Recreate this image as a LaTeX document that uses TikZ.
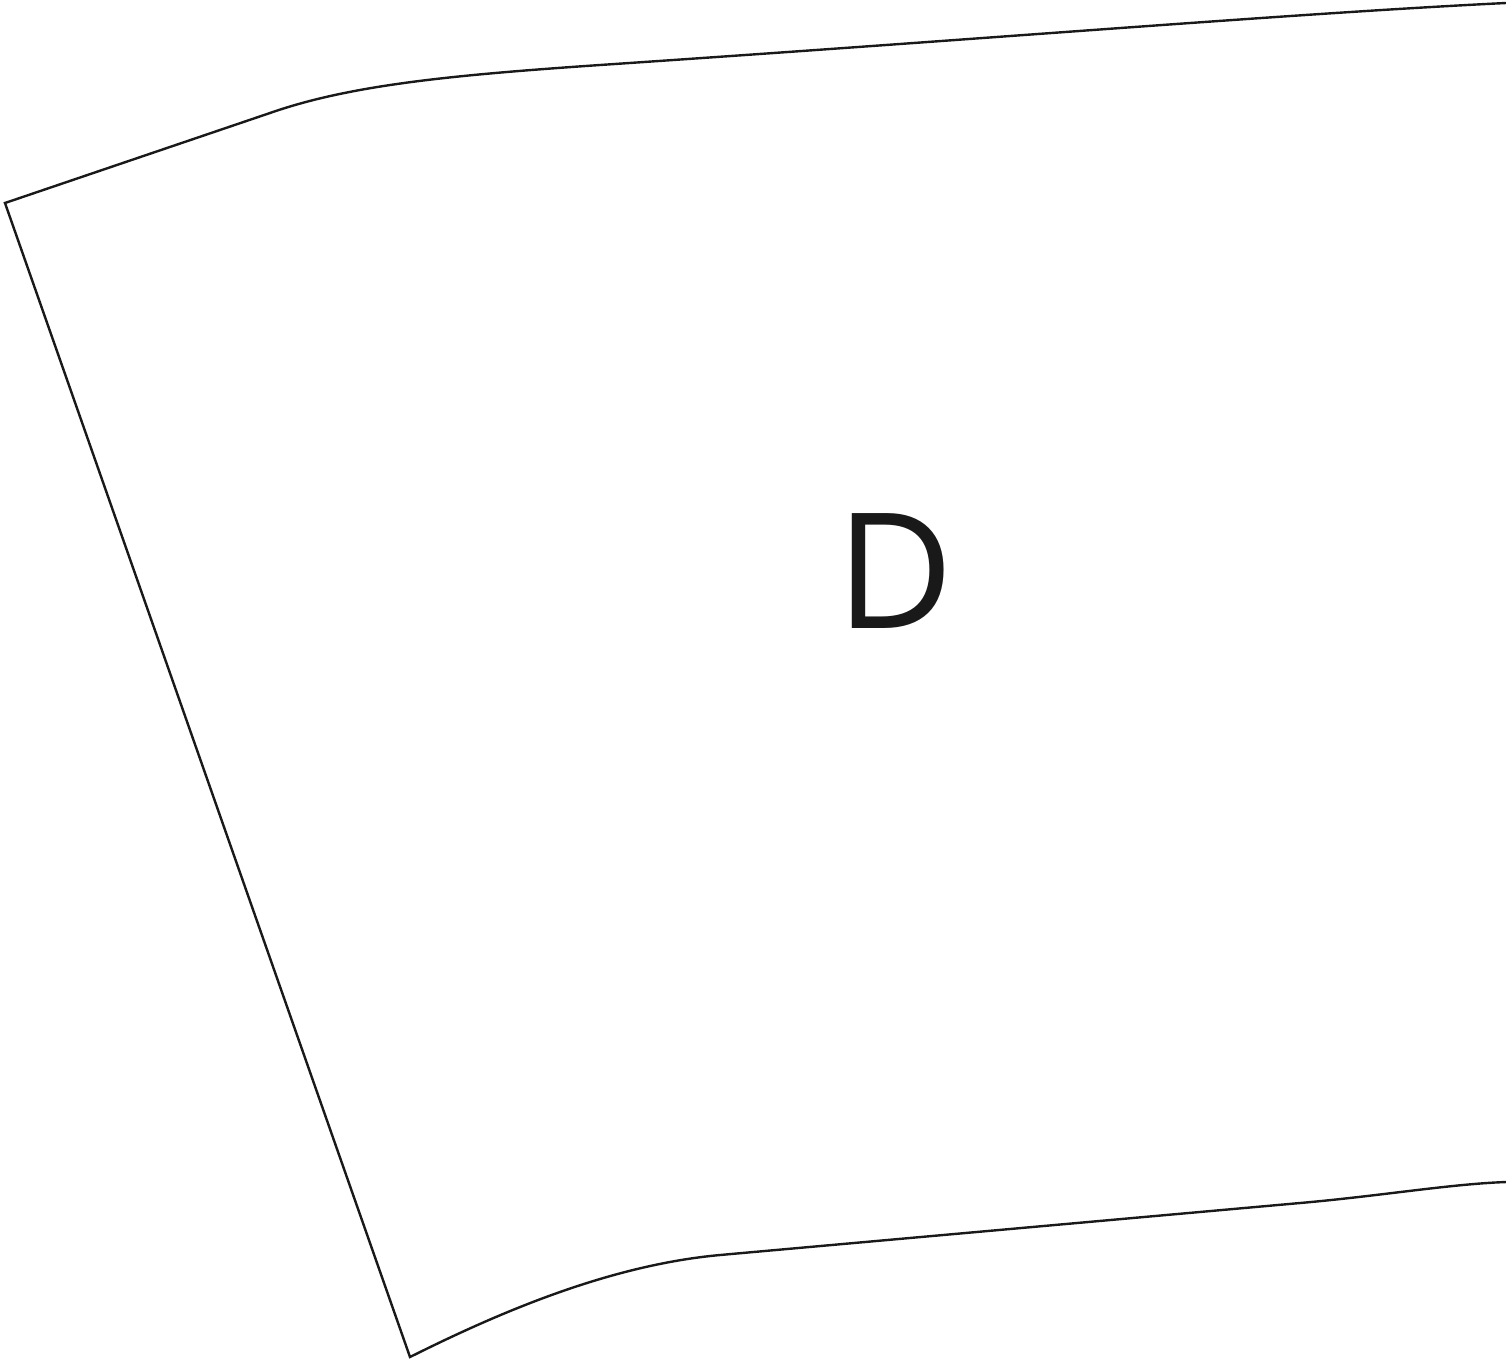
\documentclass[tikz,border=0pt]{standalone}
\usepackage{fontspec}
\setmainfont{Open Sans}
\usepackage{tikz}

\begin{document}
\begin{tikzpicture}[
        x=1pt, y=-1pt,
        outline/.style = {draw=black!90, line width=2.4pt, line join=miter},
        letter/.style  = {inner sep=0pt, text=black!90,
                          font=\fontsize{161}{161}\selectfont}
    ]
    \useasboundingbox (0,0) rectangle (1506,1358);

    % --- Corner points of the sheet ---
    \coordinate (topleft)  at (5,203);
    \coordinate (topknee)  at (270,113);
    \coordinate (topright) at (1506,3);
    \coordinate (botleft)  at (410,1357);
    \coordinate (botright) at (1506,1182);

    % --- Outline ---
    \draw[outline] (topright)
        .. controls (1300,13) and (1000,38) .. (600,65)
        .. controls (450,75.3) and (350,85) .. (topknee)
        -- (topleft) -- (botleft)
        .. controls (500,1312) and (610,1265) .. (720,1255)
        -- (1300,1203)
        .. controls (1380,1196) and (1450,1184) .. (botright);

    % --- Label ---
    \node[letter] (lbl) at (895,571) {D};

\end{tikzpicture}
\end{document}
